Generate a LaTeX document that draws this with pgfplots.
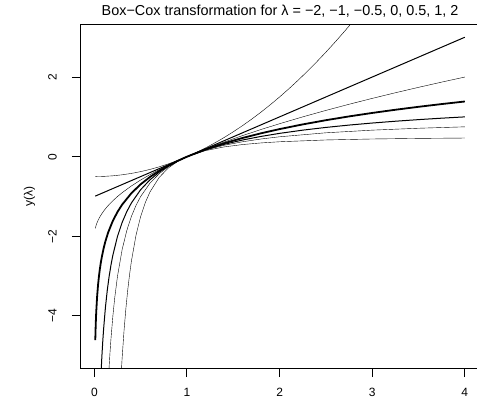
\documentclass[border=0pt]{standalone}
\usepackage{pgfplots}
\pgfplotsset{compat=1.18}
\usepackage{fontspec}
\setmainfont{Liberation Sans}

\begin{document}
\begin{tikzpicture}
\begin{axis}[
  name=ax,
  scale only axis,
  width=399.1pt, height=344pt,
  xmin=-0.1496, xmax=4.1596,
  ymin=-5.32, ymax=3.32,
  axis line style={draw=none},
  tick style={line width=1pt, black},
  tick align=outside,
  major tick length=8.5pt,
  xtick pos=left, ytick pos=left,
  xtick={0,1,2,3,4}, xticklabels={0,1,2,3,4},
  ytick={-4,-2,0,2}, yticklabels={−4,−2,0,2},
  tick label style={font=\fontsize{12}{14}\selectfont},
  xticklabel style={anchor=center, yshift=-15pt},
  yticklabel style={rotate=90, anchor=center, yshift=19.5pt},
  title={Box−Cox transformation for λ = −2, −1, −0.5, 0, 0.5, 1, 2},
  title style={font=\fontsize{14.4}{16}\selectfont, at={(axis description cs:0.5,1)}, anchor=base, yshift=3pt},
  ylabel={y(λ)},
  ylabel style={font=\fontsize{12}{14}\selectfont, at={(axis description cs:-0.128,0.5)}, anchor=center, rotate=0},
  cycle list={{black, solid, line width=1pt}},
  % frame without its right side, which falls outside the picture in the reference
  after end axis/.code={
    \draw[black, line width=1.3pt, line cap=rect]
      (rel axis cs:1,1) -- (rel axis cs:0,1) -- (rel axis cs:0,0) -- (rel axis cs:1,0);
  },
]
% lambda = -2
\addplot coordinates {
  (0.28,-5.87755) (0.29,-5.44530) (0.30,-5.05556) (0.32,-4.38281) (0.34,-3.82526)
  (0.36,-3.35802) (0.38,-2.96260) (0.40,-2.625) (0.45,-1.96914) (0.50,-1.5)
  (0.55,-1.15289) (0.60,-0.88889) (0.70,-0.52041) (0.80,-0.28125) (0.90,-0.11728)
  (1.0,0) (1.2,0.15278) (1.4,0.24490) (1.6,0.30469) (1.8,0.34568) (2.0,0.375)
  (2.5,0.42) (3.0,0.44444) (3.5,0.45918) (4.0,0.46875)
};
% lambda = -1
\addplot coordinates {
  (0.14,-6.14286) (0.15,-5.66667) (0.16,-5.25) (0.17,-4.88235) (0.18,-4.55556)
  (0.20,-4) (0.22,-3.54545) (0.25,-3) (0.30,-2.33333) (0.35,-1.85714)
  (0.40,-1.5) (0.45,-1.22222) (0.50,-1) (0.60,-0.66667) (0.70,-0.42857)
  (0.80,-0.25) (0.90,-0.11111) (1.0,0) (1.2,0.16667) (1.4,0.28571)
  (1.6,0.375) (1.8,0.44444) (2.0,0.5) (2.5,0.6) (3.0,0.66667) (3.5,0.71429) (4.0,0.75)
};
% lambda = -0.5
\addplot coordinates {
  (0.06,-6.16497) (0.07,-5.55929) (0.08,-5.07107) (0.09,-4.66667) (0.10,-4.32456)
  (0.12,-3.77350) (0.14,-3.34522) (0.16,-3) (0.18,-2.71405) (0.20,-2.47214)
  (0.25,-2) (0.30,-1.65148) (0.35,-1.38062) (0.40,-1.16228) (0.50,-0.82843)
  (0.60,-0.58199) (0.70,-0.39046) (0.80,-0.23607) (0.90,-0.10819) (1.0,0)
  (1.2,0.17426) (1.4,0.30969) (1.6,0.41886) (1.8,0.50929) (2.0,0.58579)
  (2.25,0.66667) (2.5,0.73509) (2.75,0.79396) (3.0,0.84530) (3.25,0.89060)
  (3.5,0.93095) (3.75,0.96720) (4.0,1)
};
% lambda = 0 (log)
\addplot[line width=1.8pt] coordinates {
  (0.01,-4.60517) (0.015,-4.19971) (0.02,-3.91202) (0.03,-3.50656) (0.04,-3.21888)
  (0.05,-2.99573) (0.06,-2.81341) (0.07,-2.65926) (0.08,-2.52573) (0.10,-2.30259)
  (0.12,-2.12026) (0.15,-1.89712) (0.20,-1.60944) (0.25,-1.38629) (0.30,-1.20397)
  (0.40,-0.91629) (0.50,-0.69315) (0.60,-0.51083) (0.70,-0.35667) (0.80,-0.22314)
  (0.90,-0.10536) (1.0,0) (1.2,0.18232) (1.4,0.33647) (1.6,0.47000) (1.8,0.58779)
  (2.0,0.69315) (2.25,0.81093) (2.5,0.91629) (2.75,1.01160) (3.0,1.09861)
  (3.25,1.17865) (3.5,1.25276) (3.75,1.32176) (4.0,1.38629)
};
% lambda = 0.5
\addplot coordinates {
  (0.01,-1.8) (0.02,-1.71716) (0.03,-1.65359) (0.04,-1.6) (0.05,-1.55279)
  (0.06,-1.51010) (0.08,-1.43431) (0.10,-1.36754) (0.12,-1.30718) (0.15,-1.22540)
  (0.20,-1.10557) (0.25,-1) (0.30,-0.90455) (0.40,-0.73509) (0.50,-0.58579)
  (0.60,-0.45081) (0.70,-0.32668) (0.80,-0.21115) (0.90,-0.10263) (1.0,0)
  (1.2,0.19089) (1.4,0.36643) (1.6,0.52982) (1.8,0.68328) (2.0,0.82843)
  (2.25,1) (2.5,1.16228) (2.75,1.31662) (3.0,1.46410) (3.25,1.60555)
  (3.5,1.74166) (3.75,1.87298) (4.0,2)
};
% lambda = 1
\addplot coordinates {(0.01,-0.99) (4.0,3)};
% lambda = 2
\addplot coordinates {
  (0.01,-0.49995) (0.1,-0.495) (0.2,-0.48) (0.3,-0.455) (0.4,-0.42) (0.5,-0.375)
  (0.6,-0.32) (0.7,-0.255) (0.8,-0.18) (0.9,-0.095) (1.0,0) (1.1,0.105)
  (1.2,0.22) (1.3,0.345) (1.4,0.48) (1.5,0.625) (1.6,0.78) (1.7,0.945)
  (1.8,1.12) (1.9,1.305) (2.0,1.5) (2.1,1.705) (2.2,1.92) (2.3,2.145)
  (2.4,2.38) (2.5,2.625) (2.6,2.88) (2.7,3.145) (2.8,3.42) (2.9,3.705) (3.0,4)
};
\end{axis}
\pgfresetboundingbox
\path[use as bounding box] ([shift={(-80.5pt,-31.5pt)}]ax.south west) rectangle ([shift={(396.5pt,368.5pt)}]ax.south west);
\end{tikzpicture}
\end{document}
